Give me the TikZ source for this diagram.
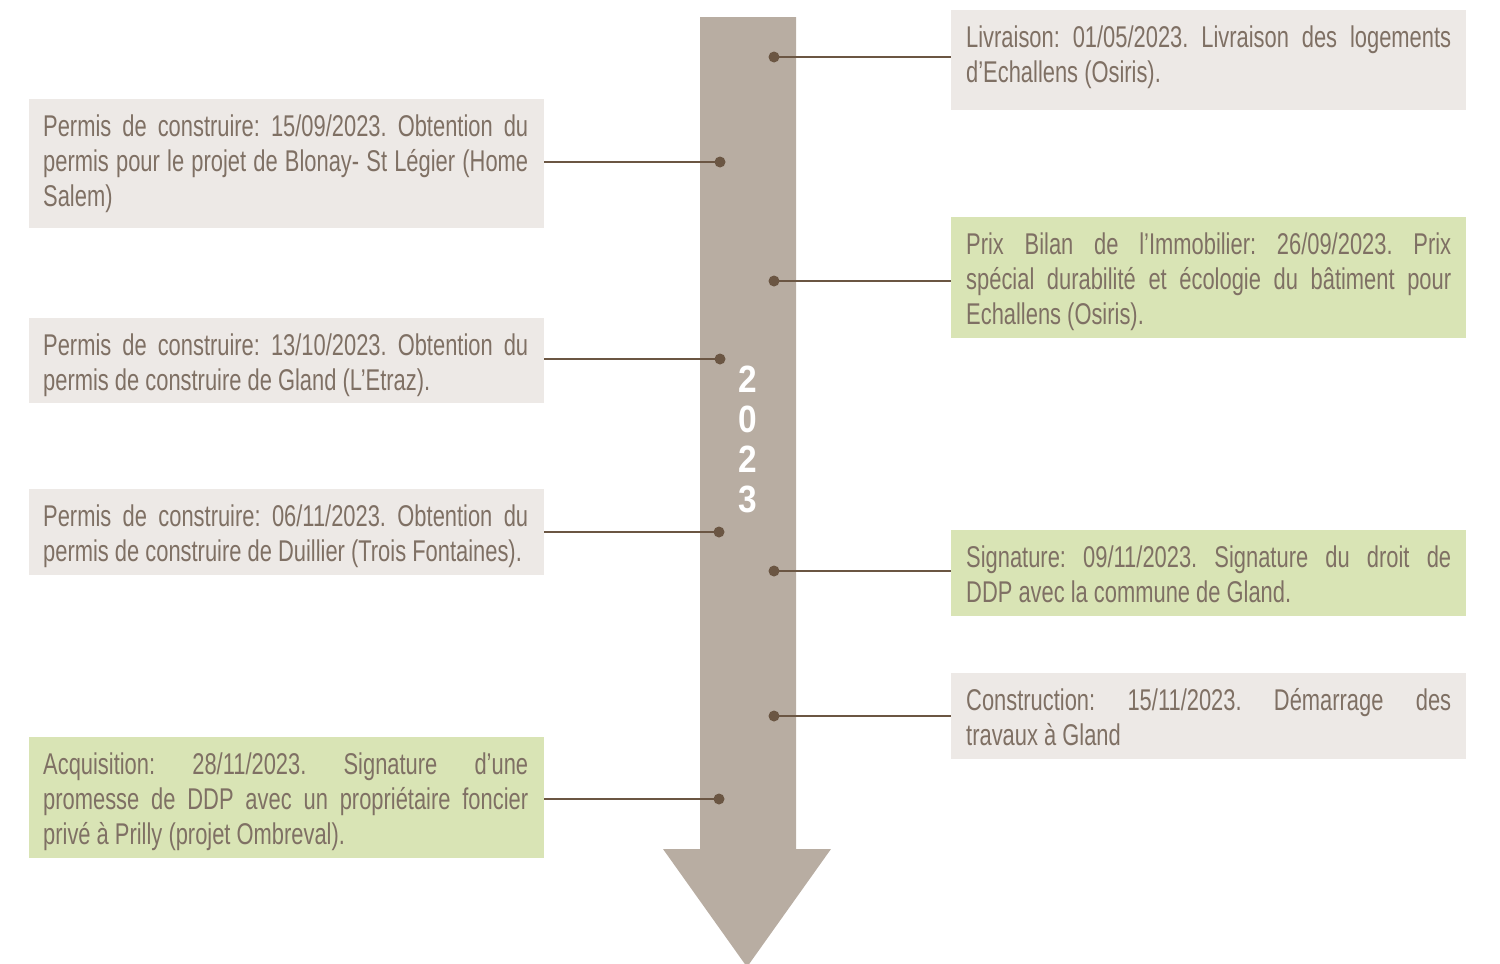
\documentclass[tikz,border=0pt]{standalone}
\usepackage{fontspec}
\newfontfamily\txtfont[FakeStretch=0.73]{Liberation Sans}
\newfontfamily\yrfont[FakeStretch=0.88]{Liberation Sans}
\definecolor{shaft}{HTML}{B8ADA2}
\definecolor{dotc}{HTML}{6B5643}
\definecolor{greybox}{HTML}{EDE9E6}
\definecolor{greenbox}{HTML}{D9E4B5}
\definecolor{txtc}{HTML}{7F7064}
\hyphenpenalty=10000
\exhyphenpenalty=10000
\tolerance=10000
\frenchspacing
\begin{document}
\begin{tikzpicture}[x=1pt,y=-1pt,
  box/.style={draw=none, inner sep=0pt, minimum width=515pt, anchor=north west},
  gbox/.style={box, fill=greybox},
  vbox/.style={box, fill=greenbox},
  txt/.style={anchor=north west, inner sep=0pt, text width=485pt, align=justify,
    font=\txtfont\fontsize{30}{35}\selectfont\frenchspacing, text=txtc},
  dotn/.style={circle, fill=dotc, draw=none, inner sep=0pt, minimum size=11pt},
  conn/.style={draw=dotc, line width=2pt},
  yearlbl/.style={font=\yrfont\bfseries\fontsize{38}{40}\selectfont, text=white, align=center, inner sep=0pt}]
\useasboundingbox (0,0) rectangle (1500,964);
% arrow
\fill[shaft] (700,17) -- (796,17) -- (796,849) -- (831,849) -- (747,967) -- (663,849) -- (700,849) -- cycle;
\node[yearlbl] (yr) at (748,439) {2\\0\\2\\3};
% right boxes
\node[gbox, minimum height=100pt] (r1) at (951,10) {};
\node[vbox, minimum height=121pt] (r2) at (951,217) {};
\node[vbox, minimum height=86pt] (r3) at (951,530) {};
\node[gbox, minimum height=86pt] (r4) at (951,673) {};
% left boxes
\node[gbox, minimum height=129pt] (l1) at (29,99) {};
\node[gbox, minimum height=85pt] (l2) at (29,318) {};
\node[gbox, minimum height=86pt] (l3) at (29,489) {};
\node[vbox, minimum height=121pt] (l4) at (29,737) {};
% texts
\node[txt] (tr1) at ([xshift=15pt,yshift=-13pt]r1.north west) {\strut Livraison: 01/05/2023. Livraison des logements\linebreak d’Echallens (Osiris).};
\node[txt] (tr2) at ([xshift=15pt,yshift=-13pt]r2.north west) {\strut Prix Bilan de l’Immobilier: 26/09/2023. Prix\linebreak spécial durabilité et écologie du bâtiment pour\linebreak Echallens (Osiris).};
\node[txt] (tr3) at ([xshift=15pt,yshift=-13pt]r3.north west) {\strut Signature: 09/11/2023. Signature du droit de\linebreak DDP avec la commune de Gland.};
\node[txt] (tr4) at ([xshift=15pt,yshift=-13pt]r4.north west) {\strut Construction: 15/11/2023. Démarrage des\linebreak travaux à Gland};
\node[txt] (tl1) at ([xshift=14pt,yshift=-13pt]l1.north west) {\strut Permis de construire: 15/09/2023. Obtention du\linebreak permis pour le projet de Blonay- St Légier (Home\linebreak Salem)};
\node[txt] (tl2) at ([xshift=14pt,yshift=-13pt]l2.north west) {\strut Permis de construire: 13/10/2023. Obtention du\linebreak permis de construire de Gland (L’Etraz).};
\node[txt] (tl3) at ([xshift=14pt,yshift=-13pt]l3.north west) {\strut Permis de construire: 06/11/2023. Obtention du\linebreak permis de construire de Duillier (Trois Fontaines).};
\node[txt] (tl4) at ([xshift=14pt,yshift=-13pt]l4.north west) {\strut Acquisition: 28/11/2023. Signature d’une\linebreak promesse de DDP avec un propriétaire foncier\linebreak privé à Prilly (projet Ombreval).};
% dots
\node[dotn] (dr1) at (774,57) {};
\node[dotn] (dr2) at (774,281) {};
\node[dotn] (dr3) at (774,571) {};
\node[dotn] (dr4) at (774,716) {};
\node[dotn] (dl1) at (720,162) {};
\node[dotn] (dl2) at (720,359) {};
\node[dotn] (dl3) at (719,532) {};
\node[dotn] (dl4) at (719,799) {};
% connectors
\foreach \d/\b in {dr1/r1,dr2/r2,dr3/r3,dr4/r4}
  \draw[conn] (\d.center) -- (\d.center -| \b.west);
\foreach \d/\b in {dl1/l1,dl2/l2,dl3/l3,dl4/l4}
  \draw[conn] (\d.center) -- (\d.center -| \b.east);
\end{tikzpicture}
\end{document}
